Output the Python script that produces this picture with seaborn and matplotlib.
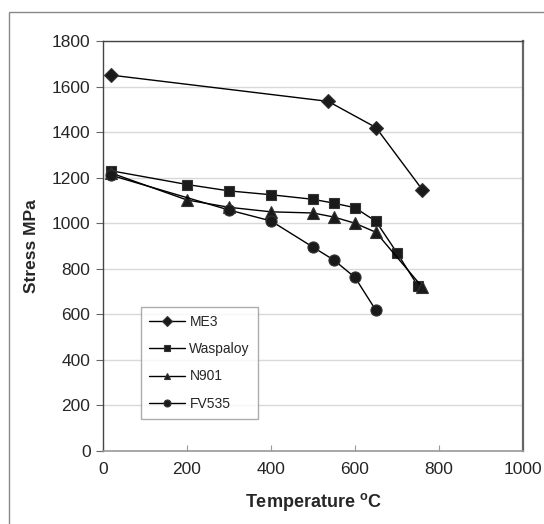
import matplotlib
matplotlib.use("Agg")
import matplotlib.pyplot as plt
import matplotlib.patches as patches
import seaborn as sns
import pandas as pd

# podaci ocitani s grafa
me3_t = [20, 536, 650, 760]
me3_s = [1650, 1535, 1420, 1148]

wasp_t = [20, 200, 300, 400, 500, 550, 600, 650, 700, 750]
wasp_s = [1230, 1170, 1142, 1125, 1105, 1088, 1068, 1008, 870, 724]

n901_t = [20, 200, 300, 400, 500, 550, 600, 650, 760]
n901_s = [1220, 1102, 1070, 1050, 1045, 1027, 1000, 960, 720]

fv_t = [20, 300, 400, 500, 550, 600, 650]
fv_s = [1210, 1058, 1010, 895, 838, 762, 617]

series = [
    ("ME3", me3_t, me3_s, "D", 7.5),
    ("Waspaloy", wasp_t, wasp_s, "s", 7),
    ("N901", n901_t, n901_s, "^", 8),
    ("FV535", fv_t, fv_s, "o", 8),
]

sns.set_style("white")
plt.rcParams["font.family"] = ["Liberation Sans", "DejaVu Sans"]

fig = plt.figure(figsize=(5.44, 5.24), dpi=100)
ax = fig.add_axes([103 / 544, 73 / 524, 420 / 544, 410 / 524])

for name, t, s, mk, ms in series:
    df = pd.DataFrame({"T": t, "S": s})
    sns.lineplot(data=df, x="T", y="S", ax=ax, color="black", linewidth=1.0,
                 marker=mk, markersize=ms, markerfacecolor="#1a1a1a",
                 markeredgecolor="#333333", markeredgewidth=0.8, label=name)

ax.set_xlim(0, 1000)
ax.set_ylim(0, 1800)
ax.set_xticks(range(0, 1001, 200))
ax.set_yticks(range(0, 1801, 200))
ax.yaxis.grid(True, color="#d9d9d9", linewidth=1.0)
ax.set_axisbelow(True)

ax.tick_params(axis="y", direction="out", length=5, width=0.8, color="#666666",
               labelsize=12.5, pad=4, left=True)
ax.tick_params(axis="x", direction="in", length=4, width=0.8, color="#999999",
               labelsize=12.5, pad=8, bottom=True)

for side in ["left", "top", "right"]:
    ax.spines[side].set_color("#444444")
    ax.spines[side].set_linewidth(1.0)
ax.spines["right"].set_linewidth(1.6)
ax.spines["right"].set_color("#666666")
ax.spines["bottom"].set_color("#999999")
ax.spines["bottom"].set_linewidth(1.2)

ax.set_xlabel("Temperature $^{\\mathregular{o}}$C", fontsize=13, fontweight="bold", labelpad=10)
ax.set_ylabel("Stress MPa", fontsize=12.5, fontweight="bold", labelpad=9)

leg = ax.legend(loc="upper left", bbox_to_anchor=(0.09, 0.352), fontsize=10,
                frameon=True, fancybox=False, edgecolor="#999999",
                handlelength=2.6, labelspacing=0.95, borderpad=0.6,
                handletextpad=0.3, borderaxespad=0)
leg.get_frame().set_linewidth(1.0)
for h in leg.legend_handles:
    h.set_markersize(5)

# okvir cijelog grafikona
fig.patches.append(patches.Rectangle((9 / 544, -0.1), 1.2, 1 - 12 / 524 + 0.1,
                                     transform=fig.transFigure, fill=False,
                                     edgecolor="#888888", linewidth=1.0))

fig.savefig("out.png", dpi=100)
